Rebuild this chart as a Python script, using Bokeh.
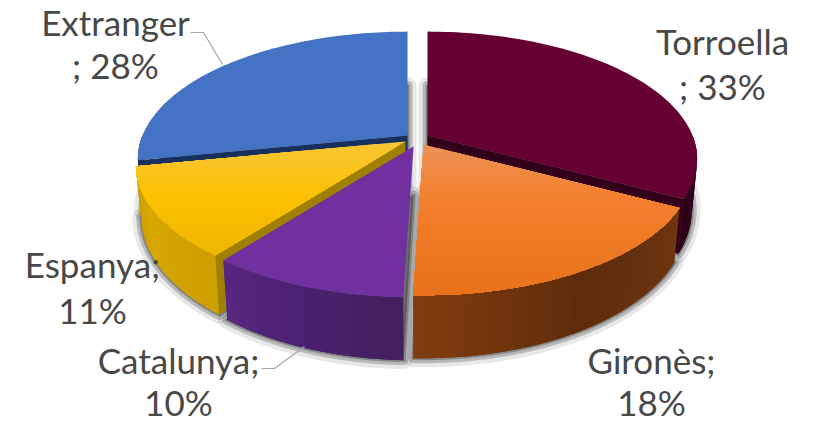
from math import sin, cos, radians
from bokeh.plotting import figure
from bokeh.models import Range1d
from bokeh.core.properties import value
from bokeh.embed import file_html
from bokeh.resources import INLINE

# ---- data ----
categories = ["Torroella", "Gironès", "Catalunya", "Espanya", "Extranger"]
values = [32.8, 17.7, 10.0, 11.4, 28.1]  # slice sizes; labels are rounded
label_line1 = ["Torroella", "Gironès;", "Catalunya;", "Espanya;", "Extranger"]
label_line2 = ["; 33%", "18%", "10%", "11%", "; 28%"]

# ---- styling / layout ----
apex = {"Torroella": (427, 135), "Gironès": (423, 144), "Catalunya": (413, 146),
        "Espanya": (405, 141), "Extranger": (407, 135)}
top_stops = {
    "Torroella": [(0, "#660033"), (1, "#660033")],
    "Gironès": [(0, "#ec9358"), (0.35, "#f4802e"), (1, "#e8721a")],
    "Catalunya": [(0, "#7030a0"), (1, "#7030a0")],
    "Espanya": [(0, "#f8c638"), (0.5, "#fcc000"), (1, "#edb600")],
    "Extranger": [(0, "#4472c4"), (1, "#4472c4")],
}
wall_stops = {
    "Torroella": [(0, "#3a0020"), (1, "#2e0018")],
    "Gironès": [(0, "#6e3610"), (0.5, "#5e2c0a"), (1, "#803c0e")],
    "Catalunya": [(0, "#43205f"), (0.5, "#4a2170"), (1, "#58267f")],
    "Espanya": [(0, "#cc9f00"), (0.6, "#d8a800"), (1, "#c89c00")],
    "Extranger": [(0, "#203864"), (1, "#203864")],
}
# which radial face shows: 0 = slice start, 1 = slice end
radial_face = {"Torroella": ("#33001a", 1), "Espanya": ("#a08000", 0), "Extranger": ("#17305e", 0)}
label_pos = {"Torroella": (722, 40, 85), "Gironès": (651, 359, 401), "Catalunya": (178, 359, 401),
             "Espanya": (92, 263, 309), "Extranger": (115, 21, 64)}
RX, RY, K = 265.0, 123.0, 0.184


def hexrgb(h):
    return tuple(int(h[i:i + 2], 16) for i in (1, 3, 5))


def ramp(stops, t):
    t = max(0.0, min(1.0, t))
    for (t0, c0), (t1, c1) in zip(stops, stops[1:]):
        if t <= t1:
            f = (t - t0) / (t1 - t0) if t1 > t0 else 0
            a, b = hexrgb(c0), hexrgb(c1)
            return "#%02x%02x%02x" % tuple(round(a[i] + (b[i] - a[i]) * f) for i in range(3))
    return stops[-1][1]


def rim(th):
    u, v = sin(radians(th)), -cos(radians(th))
    w = 1 - K * v
    return RX * u / w, RY * v / w


def top_pt(a, th):
    dx, dy = rim(th)
    return a[0] + dx, a[1] + dy


def bot_pt(a, dx, dy):
    return a[0] + dx * 0.98, a[1] + 49 + dy * (1.093 if dy > 0 else 0.95)


def clip_below(poly, y0):
    out = []
    for i in range(len(poly)):
        q, r = poly[i], poly[(i + 1) % len(poly)]
        if q[1] >= y0:
            out.append(q)
        if (q[1] >= y0) != (r[1] >= y0):
            out.append((q[0] + (r[0] - q[0]) * (y0 - q[1]) / (r[1] - q[1]), y0))
    return out


p = figure(width=815, height=422, output_backend="svg", toolbar_location=None,
           x_range=Range1d(0, 815), y_range=Range1d(422, 0), min_border=0,
           outline_line_color=None, background_fill_color="white", border_fill_color="white")
p.axis.visible = False
p.grid.visible = False

total = sum(values)
spans = {}
start = 0.0
for c, val in zip(categories, values):
    spans[c] = (start, start + 360.0 * val / total)
    start = spans[c][1]


def angles(a0, a1, n=80):
    return [a0 + (a1 - a0) * i / n for i in range(n + 1)]


# soft shadows under every slice
for c in categories:
    a0, a1 = spans[c]
    a = apex[c]
    ring = [bot_pt(a, *rim(t)) for t in angles(a0, a1)]
    base = bot_pt(a, 0, 0)
    xs = [base[0]] + [q[0] for q in ring]
    ys = [base[1]] + [q[1] for q in ring]
    for lw, al in ((18, 0.12), (10, 0.28), (4, 0.4)):
        p.patch(xs, ys, fill_color="#404040", fill_alpha=al, line_color="#404040", line_alpha=al,
                line_width=lw, line_join="round")


def draw_slice(c):
    a0, a1 = spans[c]
    a = apex[c]
    # outer wall, front-facing part only; each quad overlaps the next so no seams show
    w0, w1 = max(a0, 90.0), min(a1, 270.0)
    if w1 > w0:
        n = 40
        th = angles(w0, w1, n)
        for i in range(n):
            d0, d1 = rim(th[i]), rim(th[min(i + 2, n)])
            A, B = (a[0] + d0[0], a[1] + d0[1]), (a[0] + d1[0], a[1] + d1[1])
            C, D = bot_pt(a, *d1), bot_pt(a, *d0)
            col = ramp(wall_stops[c], i / (n - 1))
            p.patch([A[0], B[0], C[0], D[0]], [A[1], B[1], C[1], D[1]], fill_color=col, line_color=None)
    # radial face
    if c in radial_face:
        col, side = radial_face[c]
        d = rim(a1 if side else a0)
        E, F = (a[0] + d[0], a[1] + d[1]), bot_pt(a, *d)
        G = bot_pt(a, 0, 0)
        p.patch([a[0], E[0], F[0], G[0]], [a[1], E[1], F[1], G[1]], fill_color=col, line_color=None)
    # top face: bands painted top to bottom, each reaching the slice's lower end
    poly = [a] + [top_pt(a, t) for t in angles(a0, a1)]
    ymin, ymax = min(q[1] for q in poly), max(q[1] for q in poly)
    stops = top_stops[c]
    bands = 1 if stops[0][1] == stops[-1][1] else 40
    for i in range(bands):
        part = clip_below(poly, ymin + (ymax - ymin) * i / bands - (0.01 if i == 0 else 0))
        if len(part) >= 3:
            p.patch([q[0] for q in part], [q[1] for q in part],
                    fill_color=ramp(stops, (i + 0.5) / bands), line_color=None)


for c in ["Extranger", "Torroella", "Espanya", "Catalunya", "Gironès"]:
    draw_slice(c)

# leader lines
p.line([190, 203, 222], [32, 32, 64], line_color="#a6a6a6", line_width=1.2)
p.line([261, 274, 304], [368, 368, 346], line_color="#a6a6a6", line_width=1.2)

# labels
for c, l1, l2 in zip(categories, label_line1, label_line2):
    x, y1, y2 = label_pos[c]
    for txt, y in ((l1, y1), (l2, y2)):
        p.text([x], [y], text=[txt], text_font=value("Lato"), text_font_size=value("35px"),
               text_color="#484848", text_align="center", text_baseline="middle")

open("out.html", "w").write(file_html(p, INLINE))
